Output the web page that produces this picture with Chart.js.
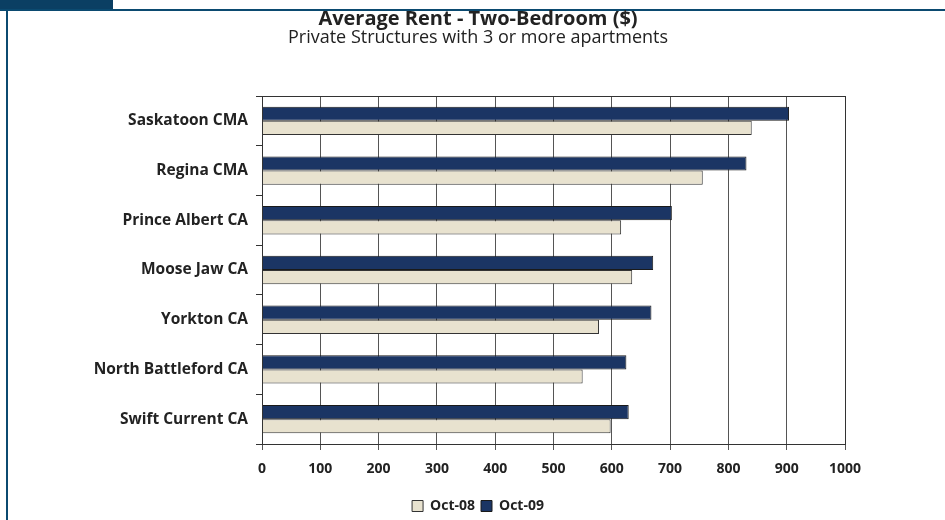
<!DOCTYPE html>
<html>
<head>
<meta charset="utf-8">
<script src="https://cdn.jsdelivr.net/npm/chart.js@4"></script>
<style>
  body { margin: 0; background: #fff; }
  #wrap { position: relative; width: 945px; height: 520px; overflow: hidden; }
  .tab { position: absolute; left: 0; top: 0; width: 113px; height: 10px; background: #0b3f63; }
  .topline { position: absolute; left: 0; right: 0; top: 9px; height: 2px; background: #0b4a70; }
  .leftline { position: absolute; left: 6px; top: 9px; bottom: 0; width: 2px; background: #0b4a70; }
  #chartBox { position: absolute; left: 0; top: 0; width: 945px; height: 520px; }
</style>
</head>
<body>
<div id="wrap">
  <div class="tab"></div>
  <div class="topline"></div>
  <div class="leftline"></div>
  <div id="chartBox"><canvas id="rentChart"></canvas></div>
</div>
<script>
  const categories = ['Saskatoon CMA', 'Regina CMA', 'Prince Albert CA', 'Moose Jaw CA', 'Yorkton CA', 'North Battleford CA', 'Swift Current CA'];
  const oct08 = [840, 756, 616, 635, 578, 550, 598];
  const oct09 = [904, 831, 703, 671, 668, 625, 629];
  const xTicks = [0, 100, 200, 300, 400, 500, 600, 700, 800, 900, 1000];

  const fontFamily = '"Open Sans", Lato, sans-serif';

  // outline round the plot area
  const plotBorder = {
    id: 'plotBorder',
    afterDatasetsDraw(chart) {
      const a = chart.chartArea;
      const c = chart.ctx;
      c.save();
      c.strokeStyle = '#333';
      c.lineWidth = 1;
      c.strokeRect(Math.round(a.left) + 0.5, Math.round(a.top) + 0.5, Math.round(a.right - a.left), Math.round(a.bottom - a.top));
      c.restore();
    }
  };

  const ctx = document.getElementById('rentChart').getContext('2d');
  new Chart(ctx, {
    type: 'bar',
    data: {
      labels: categories,
      datasets: [
        {
          label: 'Oct-09',
          data: oct09,
          backgroundColor: '#1b3564',
          borderColor: '#1a1a1a',
          borderWidth: 1,
          categoryPercentage: 0.57,
          barPercentage: 1
        },
        {
          label: 'Oct-08',
          data: oct08,
          backgroundColor: '#e8e2cf',
          borderColor: '#333',
          borderWidth: 1,
          categoryPercentage: 0.57,
          barPercentage: 1
        }
      ]
    },
    options: {
      indexAxis: 'y',
      responsive: true,
      maintainAspectRatio: false,
      animation: false,
      layout: { padding: { left: 11, right: 0, top: 0, bottom: -3 } },
      plugins: {
        title: {
          display: true,
          text: 'Average Rent - Two-Bedroom ($)',
          color: '#222',
          font: { family: fontFamily, size: 20, weight: 'bold', lineHeight: 1 },
          padding: { top: 9, bottom: 0 }
        },
        subtitle: {
          display: true,
          text: 'Private Structures with 3 or more apartments',
          color: '#222',
          font: { family: fontFamily, size: 18, lineHeight: 1 },
          padding: { top: 0, bottom: 49 }
        },
        legend: {
          position: 'bottom',
          labels: {
            boxWidth: 11,
            boxHeight: 11,
            color: '#222',
            padding: 6,
            font: { family: fontFamily, size: 14, weight: 'bold' },
            sort: (a, b) => b.datasetIndex - a.datasetIndex
          }
        },
        tooltip: { enabled: false }
      },
      scales: {
        x: {
          min: xTicks[0],
          max: xTicks[xTicks.length - 1],
          afterBuildTicks: scale => { scale.ticks = xTicks.map(v => ({ value: v })); },
          afterFit: scale => { scale.height = 49; },
          ticks: {
            color: '#222',
            padding: 11,
            callback: v => String(v),
            font: { family: fontFamily, size: 14, weight: 'bold' }
          },
          grid: { color: '#555', tickLength: 6 },
          border: { color: '#333' }
        },
        y: {
          afterFit: scale => { scale.width = 251; },
          ticks: {
            color: '#222',
            padding: 8,
            font: { family: fontFamily, size: 15.5, weight: 'bold' }
          },
          grid: { offset: true, drawOnChartArea: false, tickLength: 6, color: '#333' },
          border: { color: '#333' }
        },
        // empty right-hand axis, only reserves the white margin right of the plot
        yRight: {
          type: 'category',
          position: 'right',
          afterFit: scale => { scale.width = 100; },
          ticks: { display: false },
          grid: { display: false },
          border: { display: false }
        }
      }
    },
    plugins: [plotBorder]
  });
</script>
</body>
</html>
